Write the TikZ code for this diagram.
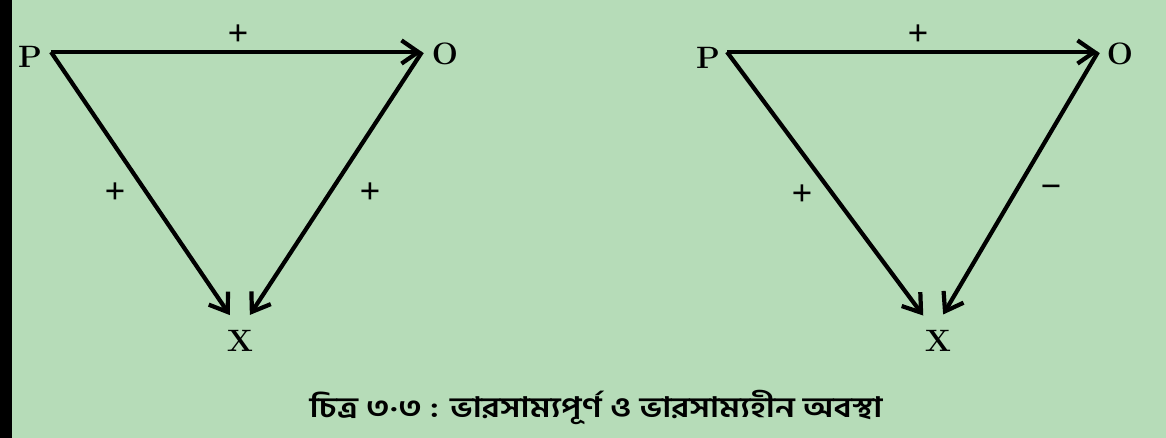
\documentclass[tikz,border=0pt]{standalone}
\usepackage{fontspec}
\newfontfamily\bengalifont[Script=Bengali, FakeStretch=1.21]{Hind Siliguri}
\newfontfamily\signfont{Liberation Serif}
\usetikzlibrary{arrows.meta}
\definecolor{paper}{RGB}{182,220,184}

\begin{document}
\begin{tikzpicture}[
  x=0.025cm, y=-0.025cm,
  vlabel/.style={font=\fontsize{22}{26}\selectfont\bfseries, inner sep=0pt},
  sign/.style={font=\signfont\fontsize{26}{30}\selectfont\bfseries, inner sep=0pt},
  edge/.style={-{Straight Barb[length=0.42cm,width=0.58cm]}, line width=3pt},
  xedge/.style={edge, shorten >=0.45cm},
  caption/.style={font=\bengalifont\fontsize{20}{24}\selectfont\bfseries, inner sep=0pt}
]

% page
\fill[paper] (0,0) rectangle (1166,438);
\fill[black] (0,0) rectangle (12,438);
\useasboundingbox (0,0) rectangle (1166,438);

% balanced triad
\coordinate (pL) at (51,52);
\coordinate (oL) at (422,52);
\coordinate (xL) at (240,330);
\node[vlabel] (labPL) at (30,57) {P};
\node[vlabel] (labOL) at (445,54) {O};
\node[vlabel] (labXL) at (240,341) {X};

\draw[edge] (pL) -- (oL);
\draw[xedge] (pL) -- (xL);
\draw[xedge] (oL) -- (xL);

\node[sign] (sPOL) at (238,35) {+};
\node[sign] (sPXL) at (115,193) {+};
\node[sign] (sOXL) at (370,193) {+};

% unbalanced triad
\coordinate (pR) at (727,52);
\coordinate (oR) at (1098,52);
\coordinate (xR) at (934,330);
\node[vlabel] (labPR) at (708,58) {P};
\node[vlabel] (labOR) at (1120,54) {O};
\node[vlabel] (labXR) at (938,341) {X};

\draw[edge] (pR) -- (oR);
\draw[xedge] (pR) -- (xR);
\draw[xedge] (oR) -- (xR);

\node[sign] (sPOR) at (918,35) {+};
\node[sign] (sPXR) at (802,195) {+};
\node[sign] (sOXR) at (1051,192) {−};

\node[caption] (cap) at (596,407) {চিত্র ৩·৩ : ভারসাম্যপূর্ণ ও ভারসাম্যহীন অবস্থা};

\end{tikzpicture}
\end{document}
